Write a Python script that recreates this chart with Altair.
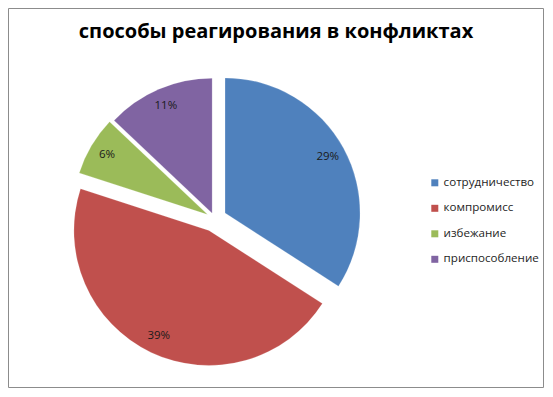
import altair as alt
import pandas as pd

categories = ["сотрудничество", "компромисс", "избежание", "приспособление"]
values = [29, 39, 6, 11]
labels = ["29%", "39%", "6%", "11%"]
colors = ["#4F81BD", "#C0504D", "#9BBB59", "#8064A2"]

# style constants
W, H = 536, 380
CX, CY = 206.5, 210.7   # pie centre (chart coords)
R = 135
LABEL_R = 117
EXPLODE_EXPR = "[12, 13, 8, 6][datum.idx]"

df = pd.DataFrame({"cat": categories, "value": values, "label": labels,
                   "idx": list(range(len(categories)))})

base = alt.Chart(df).transform_window(
    cum="sum(value)", sort=[alt.SortField("idx")]
).transform_joinaggregate(
    total="sum(value)"
).transform_calculate(
    mid="(datum.cum - datum.value/2) / datum.total * 2 * PI",
    ex=EXPLODE_EXPR,
).transform_calculate(
    px=f"{CX} + datum.ex * sin(datum.mid)",
    py=f"{CY} - datum.ex * cos(datum.mid)",
).transform_calculate(
    lx=f"datum.px + {LABEL_R} * sin(datum.mid)",
    ly=f"datum.py - {LABEL_R} * cos(datum.mid)",
)

arcs = base.mark_arc(outerRadius=R, stroke="white", strokeWidth=0.3, strokeOpacity=0.6).encode(
    theta=alt.Theta("value:Q", stack=True),
    order=alt.Order("idx:Q"),
    x=alt.X("px:Q", scale=None),
    y=alt.Y("py:Q", scale=None),
    color=alt.Color(
        "cat:N",
        scale=alt.Scale(domain=categories, range=colors),
        sort=categories,
        legend=alt.Legend(
            title=None, orient="none", legendX=421, legendY=169,
            symbolType="square", symbolSize=49, symbolStrokeWidth=0,
            labelFont="Open Sans", labelFontSize=11.6, labelColor="#1e1e1e",
            rowPadding=12.5, labelOffset=3,
        ),
    ),
)

text = base.mark_text(font="Open Sans", fontSize=11.5, color="#1a1a1a").encode(
    x=alt.X("lx:Q", scale=None),
    y=alt.Y("ly:Q", scale=None),
    text="label:N",
)

border = alt.Chart(df).mark_rect(fill=None, stroke="#8c8c8c", strokeWidth=1).encode(
    x=alt.value(0.5), x2=alt.value(W - 0.5), y=alt.value(0.5), y2=alt.value(H - 0.5)
).transform_filter("datum.idx == 0")

chart = (border + arcs + text).properties(
    width=W, height=H,
    title=alt.TitleParams(
        "способы реагирования в конфликтах",
        font="Open Sans", fontSize=20, fontWeight="bold", color="black",
        anchor="middle", offset=-34,
    ),
    autosize=alt.AutoSizeParams(type="none"),
    padding=0,
).configure_view(stroke=None)

chart.save("out.html", embed_options={"renderer": "svg", "actions": False})
